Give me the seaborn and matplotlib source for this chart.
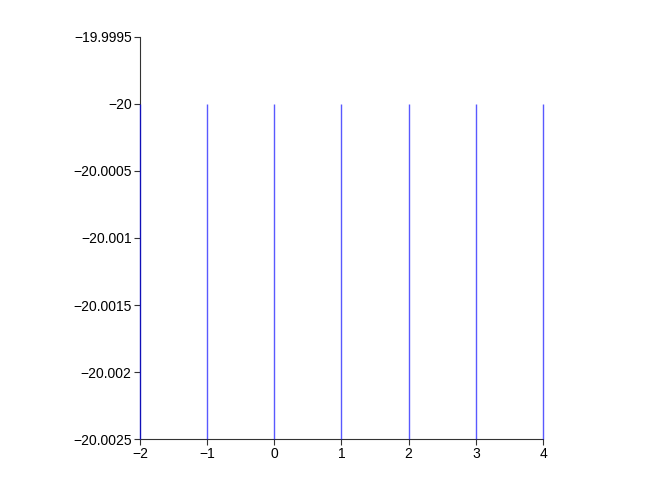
import matplotlib
matplotlib.use("Agg")
import matplotlib.pyplot as plt
import seaborn as sns
import numpy as np

# stem positions and heights
x_vals = [-2, -1, 0, 1, 2, 3, 4]
y_vals = [-20, -20, -20, -20, -20, -20, -20]
baseline = -20.0025

y_ticks = [-20.0025, -20.002, -20.0015, -20.001, -20.0005, -20, -19.9995]
y_labels = ['\u221220.0025', '\u221220.002', '\u221220.0015', '\u221220.001',
            '\u221220.0005', '\u221220', '\u221219.9995']
x_ticks = [-2, -1, 0, 1, 2, 3, 4]
x_labels = ['\u22122', '\u22121', '0', '1', '2', '3', '4']

sns.set_style("ticks")
plt.rcParams['font.family'] = ['Liberation Sans', 'DejaVu Sans']

fig = plt.figure(figsize=(6.59, 4.95), dpi=100)
ax = fig.add_axes([0.2124, 0.1131, 0.6116, 0.8122])

ax.vlines(x_vals, baseline, y_vals, colors='#0000ff', linewidth=1.0, alpha=0.65,
          clip_on=False, zorder=5)

ax.set_xlim(-2, 4)
ax.set_ylim(baseline, -19.9995)
ax.set_xticks(x_ticks)
ax.set_xticklabels(x_labels)
ax.set_yticks(y_ticks)
ax.set_yticklabels(y_labels)
ax.tick_params(axis='both', direction='out', length=4, width=0.8, colors='#333333',
               labelcolor='black', labelsize=10, pad=2)
sns.despine(ax=ax)
for s in ['left', 'bottom']:
    ax.spines[s].set_color('#333333')
    ax.spines[s].set_linewidth(0.8)

fig.savefig('out.png', dpi=100)
